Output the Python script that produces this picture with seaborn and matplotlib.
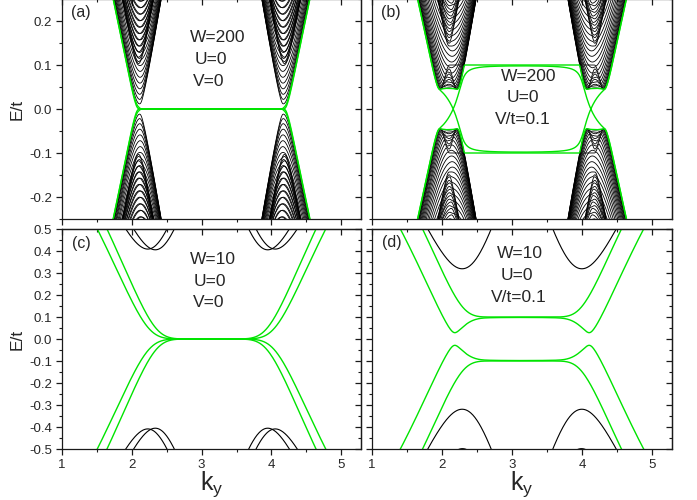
import numpy as np
import pandas as pd
import matplotlib
matplotlib.use("Agg")
import matplotlib.pyplot as plt
from matplotlib.ticker import MultipleLocator, NullFormatter, FormatStrFormatter
import seaborn as sns

# Zigzag bilayer ribbon: one panel per parameter set
panel_tags = ["(a)", "(b)", "(c)", "(d)"]
widths = [200, 200, 10, 10]          # W, zigzag chains per layer
hubbard_U = [0, 0, 0, 0]             # U/t
bias_V = [0.0, 0.1, 0.0, 0.1]        # layer potential +V / -V (units of t)
energy_limits = [0.25, 0.25, 0.5, 0.5]
energy_tick_step = [0.1, 0.1, 0.1, 0.1]
ky_ticks = [1, 2, 3, 4, 5]
t_perp = 0.1                         # interlayer hopping / t
ky_min = 1.0
ky_max = 2 * np.pi - 1.0

GREEN = "#00e400"


def ribbon_hamiltonian_parts(W, V):
    """Constant part and the cos(ky/2)-dependent part of the Bloch Hamiltonian."""
    n = 4 * W
    H0 = np.zeros((n, n))
    G = np.zeros((n, n))
    for layer in range(2):
        o = 2 * W * layer
        for j in range(W):
            G[o + 2 * j, o + 2 * j + 1] = 1.0          # A_j - B_j (inside chain)
            if j < W - 1:
                H0[o + 2 * j + 1, o + 2 * j + 2] = 1.0  # B_j - A_{j+1}
    o = 2 * W
    for j in range(W):
        H0[2 * j + 1, o + 2 * j] = t_perp               # B_j (layer 1) - A'_j (layer 2)
    H0 = H0 + H0.T
    G = G + G.T
    H0 += np.diag(np.r_[np.full(2 * W, V), np.full(2 * W, -V)])
    return H0, G


def band_table(W, V, elim):
    half = np.linspace(ky_min, np.pi, 221)
    H0, G = ribbon_hamiltonian_parts(W, V)
    E_half = np.array([np.linalg.eigvalsh(H0 + 2 * np.cos(k / 2) * G) for k in half])
    # E(ky) = E(2*pi - ky)
    ky = np.r_[half, 2 * np.pi - half[::-1][1:]]
    E = np.vstack([E_half, E_half[::-1][1:]])
    mid = 2 * W
    rows = []
    for b in range(E.shape[1]):
        if np.min(np.abs(E[:, b])) > elim * 1.05:
            continue
        kind = "edge" if mid - 2 <= b <= mid + 1 else "bulk"
        rows.append(pd.DataFrame({"ky": ky, "E": E[:, b], "band": b, "kind": kind}))
    return pd.concat(rows, ignore_index=True)


sns.set_style("ticks")
plt.rcParams["font.family"] = ["Liberation Sans", "DejaVu Sans"]
plt.rcParams["mathtext.fontset"] = "custom"
plt.rcParams["mathtext.rm"] = "Liberation Sans"
plt.rcParams["mathtext.it"] = "Liberation Sans:italic"
plt.rcParams["axes.unicode_minus"] = False
plt.rcParams["axes.linewidth"] = 0.9
plt.rcParams["axes.edgecolor"] = "#1a1a1a"

FW, FH = 697, 500
fig = plt.figure(figsize=(FW / 100, FH / 100), dpi=100)
fig.patch.set_facecolor("white")

# axes boxes in pixels: left, top, right, bottom
boxes = [(62, -1, 361, 219), (372, -1, 672, 219),
         (62, 229, 361, 449), (372, 229, 672, 449)]

# text anchors in pixels (centre x, centre y)
tag_xy = [(71, 13), (381, 13), (72, 243.5), (382, 243)]
info_xy = [[(217.5, 37), (211, 59), (209, 81)],
           [(529, 76.5), (522.5, 97.5), (523, 119)],
           [(213, 259), (210, 281), (209, 302.5)],
           [(520, 254), (517, 276), (518.7, 297.5)]]


def fxy(x, y):
    return x / FW, 1 - y / FH


for i in range(4):
    l, t, r, b = boxes[i]
    ax = fig.add_axes([l / FW, 1 - b / FH, (r - l) / FW, (b - t) / FH])
    W, V, elim = widths[i], bias_V[i], energy_limits[i]
    df = band_table(W, V, elim)
    lw_bulk = 0.6 if W > 50 else 0.8
    sns.lineplot(data=df[df.kind == "bulk"], x="ky", y="E", units="band",
                 estimator=None, sort=False, color="black", lw=lw_bulk, ax=ax)
    sns.lineplot(data=df[df.kind == "edge"], x="ky", y="E", units="band",
                 estimator=None, sort=False, color=GREEN, lw=1.0, ax=ax)
    ax.set_xlim(ky_min, ky_max)
    ax.set_ylim(-elim, elim)
    ax.xaxis.set_major_locator(matplotlib.ticker.FixedLocator(ky_ticks))
    ax.xaxis.set_minor_locator(MultipleLocator(0.5))
    ax.yaxis.set_major_locator(MultipleLocator(energy_tick_step[i]))
    ax.yaxis.set_minor_locator(MultipleLocator(energy_tick_step[i] / 2))
    ax.yaxis.set_major_formatter(FormatStrFormatter("%.1f"))
    ax.tick_params(which="major", direction="out", length=4, width=0.9,
                   labelsize=9.5, pad=3, color="#1a1a1a")
    ax.tick_params(which="minor", direction="out", length=2.2, width=0.8,
                   color="#1a1a1a")
    ax.set_xlabel("")
    ax.set_ylabel("")
    if i < 2:
        ax.tick_params(labelbottom=False)
    else:
        ax.set_xlabel(r"k$_\mathrm{y}$", fontsize=18, labelpad=-1)
    if i % 2 == 1:
        ax.tick_params(labelleft=False)
    else:
        ax.set_ylabel("E/t", fontsize=12.5, labelpad=3)

    # mirrored inward ticks on the right and top edges
    sec_y = ax.secondary_yaxis("right")
    sec_y.yaxis.set_major_locator(MultipleLocator(energy_tick_step[i]))
    sec_y.yaxis.set_minor_locator(MultipleLocator(energy_tick_step[i] / 2))
    sec_y.yaxis.set_major_formatter(NullFormatter())
    sec_y.tick_params(which="major", direction="in", length=4, width=0.9, color="#1a1a1a")
    sec_y.tick_params(which="minor", direction="in", length=2.2, width=0.8, color="#1a1a1a")
    sec_x = ax.secondary_xaxis("top")
    sec_x.xaxis.set_major_locator(matplotlib.ticker.FixedLocator(ky_ticks))
    sec_x.xaxis.set_minor_locator(MultipleLocator(0.5))
    sec_x.xaxis.set_major_formatter(NullFormatter())
    sec_x.tick_params(which="major", direction="in", length=4, width=0.9, color="#1a1a1a")
    sec_x.tick_params(which="minor", direction="in", length=2.2, width=0.8, color="#1a1a1a")

    # panel tag and parameter block
    tx, ty = fxy(*tag_xy[i])
    fig.text(tx, ty, panel_tags[i], fontsize=11.5, ha="left", va="center")
    v_text = "V=0" if V == 0 else f"V/t={V:g}"
    lines = [f"W={W}", f"U={hubbard_U[i]}", v_text]
    for (px, py), s in zip(info_xy[i], lines):
        x, y = fxy(px, py)
        fig.text(x, y, s, fontsize=12.5, ha="center", va="center")

fig.savefig("out.png", dpi=100)
